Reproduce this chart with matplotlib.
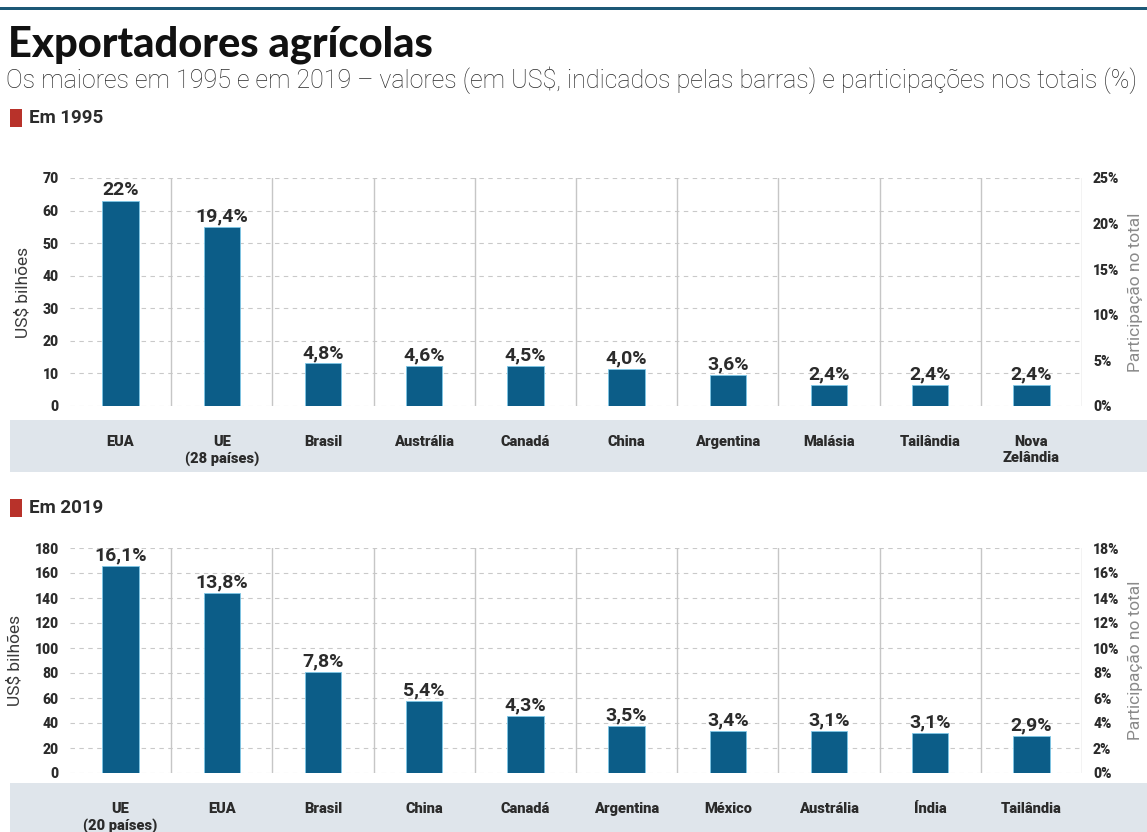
import matplotlib.pyplot as plt
from matplotlib.patches import Rectangle
from matplotlib.ticker import FuncFormatter

# Dados: exportações agrícolas (US$ bilhões) e participação no total (%)
paises_1995 = ['EUA', 'UE\n(28 países)', 'Brasil', 'Austrália', 'Canadá',
               'China', 'Argentina', 'Malásia', 'Tailândia', 'Nova\nZelândia']
valores_1995 = [63, 55, 13.1, 12.2, 12.2, 11.3, 9.5, 6.4, 6.4, 6.4]
partic_1995 = ['22%', '19,4%', '4,8%', '4,6%', '4,5%', '4,0%', '3,6%', '2,4%', '2,4%', '2,4%']

paises_2019 = ['UE\n(20 países)', 'EUA', 'Brasil', 'China', 'Canadá',
               'Argentina', 'México', 'Austrália', 'Índia', 'Tailândia']
valores_2019 = [166, 144, 81, 57.6, 45.6, 37.6, 34, 34, 32, 29.6]
partic_2019 = ['16,1%', '13,8%', '7,8%', '5,4%', '4,3%', '3,5%', '3,4%', '3,1%', '3,1%', '2,9%']

W, H = 1147, 832
AZUL = '#0c5d88'
FAIXA = '#dfe5eb'
TEXTO = '#2b2b2b'

plt.rcParams['font.family'] = ['Roboto', 'DejaVu Sans']

fig = plt.figure(figsize=(W / 100, H / 100), dpi=100)
fig.patch.set_facecolor('white')


def px(x, y):
    # converte pixels (origem no topo) para coordenadas da figura
    return x / W, 1 - y / H


# linha no topo
fig.add_artist(Rectangle((0, 1 - 10 / H), 1, 3 / H, transform=fig.transFigure,
                         color='#1d5876', lw=0))

fig.text(*px(8, 45), 'Exportadores agrícolas', fontsize=30, fontweight='black',
         family=['Lato', 'DejaVu Sans'], color='#111111', va='center', ha='left')
fig.text(*px(6, 80), 'Os maiores em 1995 e em 2019 – valores (em US$, indicados pelas barras) '
         'e participações nos totais (%)', fontsize=18, fontweight='light',
         color='#2a2a2a', va='center', ha='left')


def painel(topo, base, faixa_top, faixa_bot, titulo_y, titulo, paises, valores, partic,
           ymax, ystep, pmax, pstep):
    # marcador vermelho + título do painel
    fig.add_artist(Rectangle(px(10, titulo_y + 9), 12 / W, 18 / H, transform=fig.transFigure,
                             color='#b8322a', lw=0))
    fig.text(*px(29, titulo_y), titulo, fontsize=13.5, fontweight='bold', color=TEXTO,
             va='center', ha='left')

    # faixa cinza das categorias
    fig.add_artist(Rectangle(px(10, faixa_bot), 1, (faixa_bot - faixa_top) / H,
                             transform=fig.transFigure, color=FAIXA, lw=0, zorder=0))

    left, right = 70, 1082
    ax = fig.add_axes([left / W, 1 - base / H, (right - left) / W, (base - topo) / H])
    ax.set_facecolor('none')
    x = range(len(paises))
    ax.bar(x, valores, width=0.36, color=AZUL, edgecolor='#7fc8e8', linewidth=0.6, zorder=3)
    for xi, v, p in zip(x, valores, partic):
        ax.annotate(p, (xi, v), xytext=(0, 1), textcoords='offset points',
                    ha='center', va='bottom', fontsize=14, fontweight='bold', color=TEXTO)

    ax.set_xlim(-0.5, len(paises) - 0.5)
    ax.set_ylim(0, ymax)
    ax.set_yticks(range(0, ymax + 1, ystep))
    ax.yaxis.grid(True, color='#c9c9c9', linestyle=(0, (4, 4)), linewidth=0.8)
    ax.set_axisbelow(True)
    for xi in x:
        ax.axvline(xi + 0.5, color='#c6c6c6', linewidth=1, zorder=1)

    ax.set_xticks(list(x))
    ax.set_xticklabels(paises, fontsize=10.5, fontweight='black', color=TEXTO, linespacing=1.15,
                       va='top')
    ax.tick_params(axis='x', length=0, pad=21)
    ax.tick_params(axis='y', length=0, pad=8, labelsize=10, labelcolor=TEXTO)
    for lbl in ax.get_yticklabels():
        lbl.set_fontweight('black')
    for s in ax.spines.values():
        s.set_visible(False)
    ax.set_ylabel('US$ bilhões', fontsize=12.5, color='#3a3a3a', labelpad=9)

    ax2 = ax.twinx()
    ax2.set_ylim(0, pmax)
    ax2.set_yticks(range(0, pmax + 1, pstep))
    ax2.yaxis.set_major_formatter(FuncFormatter(lambda v, _: f'{v:.0f}%'))
    ax2.tick_params(axis='y', length=0, pad=8, labelsize=10, labelcolor=TEXTO)
    for lbl in ax2.get_yticklabels():
        lbl.set_fontweight('black')
    for s in ax2.spines.values():
        s.set_visible(False)
    ax2.set_ylabel('Participação no total', fontsize=12.5, color='#8a8a8a', labelpad=6)
    return ax


painel(178, 406, 420, 472, 118, 'Em 1995', paises_1995, valores_1995, partic_1995,
       70, 10, 25, 5)
painel(548, 773, 783, 832, 508, 'Em 2019', paises_2019, valores_2019, partic_2019,
       180, 20, 18, 2)

fig.savefig('out.png', dpi=100)
